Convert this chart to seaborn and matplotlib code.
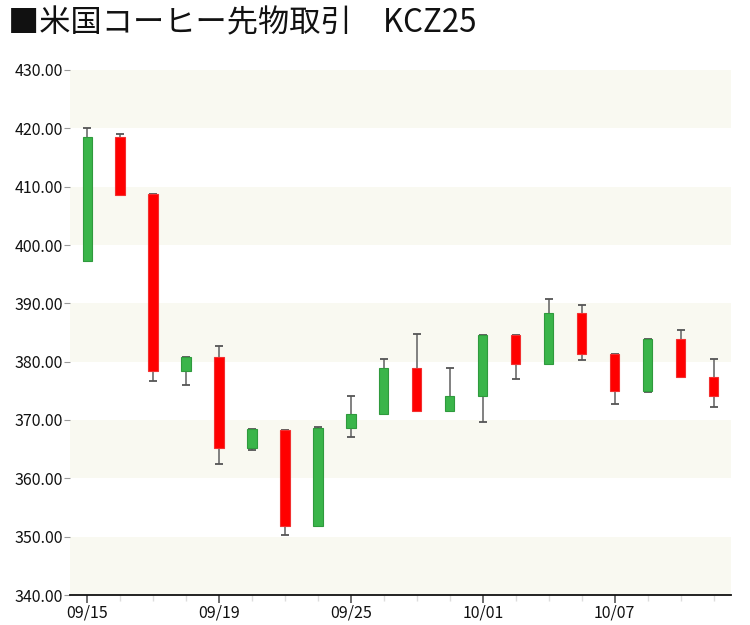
import pandas as pd
import matplotlib
matplotlib.use("Agg")
import matplotlib.pyplot as plt
import seaborn as sns

# daily OHLC
dates = ["09/15", "09/16", "09/17", "09/18", "09/19", "09/22", "09/23", "09/24", "09/25", "09/26",
         "09/29", "09/30", "10/01", "10/02", "10/03", "10/06", "10/07", "10/08", "10/09", "10/10"]
open_ = [397.3, 418.5, 408.7, 378.4, 380.8, 365.2, 368.3, 351.8, 368.6, 371.1,
         378.9, 371.5, 374.1, 384.5, 379.6, 388.3, 381.4, 374.9, 383.9, 377.4]
high = [420.1, 419.0, 408.7, 380.8, 382.7, 368.4, 368.3, 368.8, 374.1, 380.5,
        384.7, 379.0, 384.5, 384.5, 390.7, 389.8, 381.4, 383.9, 385.4, 380.4]
low = [397.3, 408.6, 376.7, 376.0, 362.4, 364.9, 350.3, 351.8, 367.1, 371.1,
       371.5, 371.5, 369.6, 377.0, 379.6, 380.3, 372.8, 374.8, 377.4, 372.2]
close = [418.5, 408.6, 378.4, 380.8, 365.2, 368.4, 351.8, 368.7, 371.1, 378.9,
         371.5, 374.2, 384.5, 379.6, 388.3, 381.4, 375.0, 383.9, 377.4, 374.1]

df = pd.DataFrame({"date": dates, "open": open_, "high": high, "low": low, "close": close})
df["pos"] = range(len(df))
df["up"] = df["close"] >= df["open"]

sns.set_theme(style="white")
plt.rcParams["font.family"] = ["Noto Sans CJK JP", "DejaVu Sans"]

fig = plt.figure(figsize=(7.5, 6.25), dpi=100)
ax = fig.add_axes([0.0933, 0.048, 0.881, 0.84])

# alternating background bands
for lo in range(340, 430, 20):
    ax.axhspan(lo, lo + 10, color="#f9f9f1", zorder=0, lw=0)

# wicks with caps
ax.vlines(df["pos"], df["low"], df["high"], color="#777777", lw=1.3, zorder=1)
ax.hlines(df["high"], df["pos"] - 0.12, df["pos"] + 0.12, color="#555555", lw=1.3, zorder=1)
ax.hlines(df["low"], df["pos"] - 0.12, df["pos"] + 0.12, color="#555555", lw=1.3, zorder=1)

# bodies
body_lo = df[["open", "close"]].min(axis=1)
body_h = (df["close"] - df["open"]).abs()
colors = ["#3ab54a" if u else "#ff0000" for u in df["up"]]
edges = ["#2f9a3d" if u else "#f23030" for u in df["up"]]
ax.bar(df["pos"], body_h, bottom=body_lo, width=0.28, color=colors,
       edgecolor=edges, linewidth=0.8, zorder=2)

ax.set_xlim(-0.52, 19.52)
ax.set_ylim(340, 430)
ax.set_yticks(range(340, 431, 10))
ax.set_yticklabels([f"{v:.2f}" for v in range(340, 431, 10)], fontsize=11.5)
ax.set_xticks(df["pos"][::4])
ax.set_xticklabels(df["date"][::4], fontsize=11.5)
ax.set_xticks(df["pos"], minor=True)

ax.tick_params(axis="y", which="major", left=True, length=4, width=0.8, color="#999999",
               pad=1, labelcolor="#111111")
ax.tick_params(axis="x", which="major", bottom=True, length=6, width=1.2, color="#555555",
               pad=1, labelcolor="#111111")
ax.tick_params(axis="x", which="minor", bottom=True, length=4, width=1, color="#dddddd")

for side in ["left", "right", "top"]:
    ax.spines[side].set_visible(False)
ax.spines["bottom"].set_color("#111111")
ax.spines["bottom"].set_linewidth(1.3)

fig.text(0.011, 0.962, "■米国コーヒー先物取引\u3000KCZ25", fontsize=22.5, ha="left", va="center",
         color="#111111")

fig.savefig("out.png", dpi=100)
